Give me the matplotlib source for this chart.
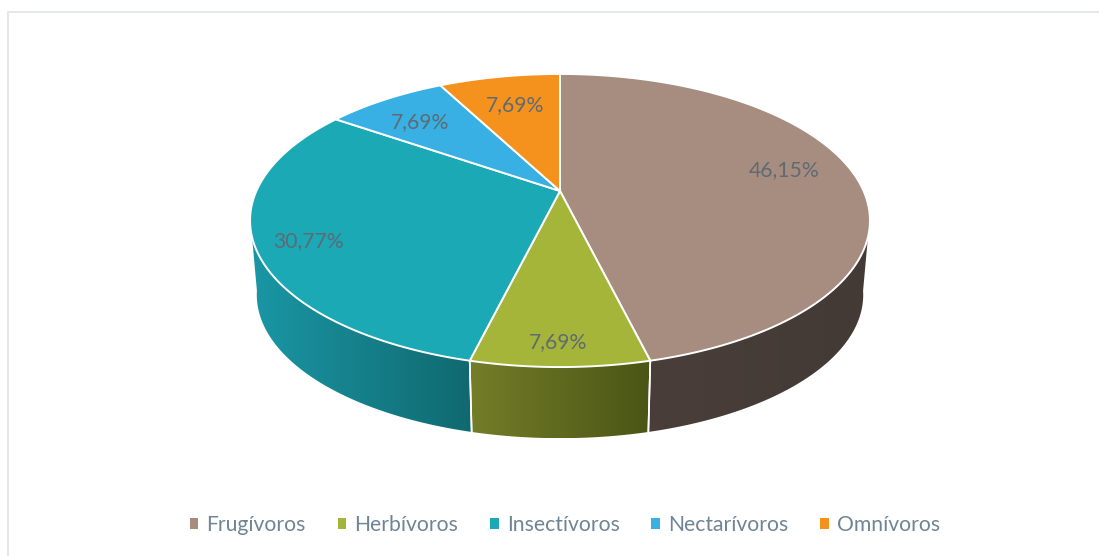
import numpy as np
import matplotlib
matplotlib.use("Agg")
import matplotlib.pyplot as plt
from matplotlib.patches import Patch, Polygon

plt.rcParams["font.family"] = ["Lato", "DejaVu Sans"]

# --- data ---------------------------------------------------------------
categories = ["Frugívoros", "Herbívoros", "Insectívoros", "Nectarívoros", "Omnívoros"]
shares = [46.15, 7.69, 30.77, 7.69, 7.69]
share_labels = ["46,15%", "7,69%", "30,77%", "7,69%", "7,69%"]

# --- style --------------------------------------------------------------
top_colors = ["#a78d80", "#a5b539", "#1aa9b5", "#38b0e4", "#f5921e"]
wall_left = ["#4a3e3a", "#747d28", "#1a97a5", "#38b0e4", "#f5921e"]
wall_right = ["#433a35", "#4a5516", "#10696f", "#38b0e4", "#f5921e"]
label_xy = [(784, 170), (558, 342), (308, 241), (420, 122), (515, 105)]
LABEL_COLOR = "#5f6a72"
LEGEND_COLOR = "#6f8494"
BORDER = "#e4e7e7"

# perspective of the pie: disc point (x, y) on the unit circle -> pixels
K = 0.2014
TOP = dict(cy=191.0, a=140.6, b=303.6)
BOTTOM = dict(cy=266.0, a=137.5, b=297.0)
CX = 560.0
WALL_FROM, WALL_TO = 100.0, 260.0


def project(theta, disc, r=1.0):
    t = np.radians(theta)
    x, y = r * np.sin(t), r * np.cos(t)
    w = 1 + K * y
    return np.column_stack([CX + disc["b"] * x / w, disc["cy"] - disc["a"] * y / w])


fig = plt.figure(figsize=(10.99, 5.56), dpi=100)
ax = fig.add_axes([0, 0, 1, 1])
ax.axis("off")

edges = np.concatenate([[0], np.cumsum(shares)]) / np.sum(shares) * 360

# side walls first, the top disc covers what sticks out
for i in range(len(shares)):
    a0, a1 = max(edges[i], WALL_FROM), min(edges[i + 1], WALL_TO)
    if a1 <= a0:
        continue
    th = np.linspace(a0, a1, 120)
    pts = np.vstack([project(th, TOP), project(th[::-1], BOTTOM)])
    x0, x1 = pts[:, 0].min(), pts[:, 0].max()
    left = np.array(matplotlib.colors.to_rgb(wall_left[i]))
    right = np.array(matplotlib.colors.to_rgb(wall_right[i]))
    ramp = np.linspace(0, 1, 128)[:, None]
    img = (left + (right - left) * ramp)[None, :, :]
    im = ax.imshow(img, extent=(x0, x1, pts[:, 1].max(), pts[:, 1].min()),
                   aspect="auto", zorder=1, interpolation="bilinear")
    clip = Polygon(pts, closed=True, transform=ax.transData)
    im.set_clip_path(clip)
    # white seam between two walls
    for a in (a0, a1):
        if a not in (WALL_FROM, WALL_TO):
            seam = np.vstack([project(a, TOP), project(a, BOTTOM)])
            ax.plot(seam[:, 0], seam[:, 1], color="white", lw=1.2, zorder=2)

# top disc
apex = project(0.0, TOP, r=0.0)
for i in range(len(shares)):
    th = np.linspace(edges[i], edges[i + 1], 200)
    pts = np.vstack([apex, project(th, TOP)])
    ax.add_patch(Polygon(pts, closed=True, facecolor=top_colors[i], edgecolor="white",
                         lw=1.4, joinstyle="round", zorder=3))

for (lx, ly), txt in zip(label_xy, share_labels):
    ax.text(lx, ly, txt, color=LABEL_COLOR, fontsize=15.2, ha="center", va="center", zorder=4)

# chart frame, only top and left show in the crop
ax.plot([1099, 7.5, 7.5], [12, 12, 556], color=BORDER, lw=1.4, zorder=0)

handles = [Patch(facecolor=c, edgecolor="none", label=n) for c, n in zip(top_colors, categories)]
ax.legend(handles=handles, loc="center", bbox_to_anchor=(565, 525), bbox_transform=ax.transData,
          ncol=5, frameon=False, fontsize=15.2, labelcolor=LEGEND_COLOR,
          handlelength=0.4, handleheight=0.4, handletextpad=0.4, columnspacing=1.5)

ax.set_xlim(0, 1099)
ax.set_ylim(556, 0)
fig.savefig("out.png", dpi=100, facecolor="white")
